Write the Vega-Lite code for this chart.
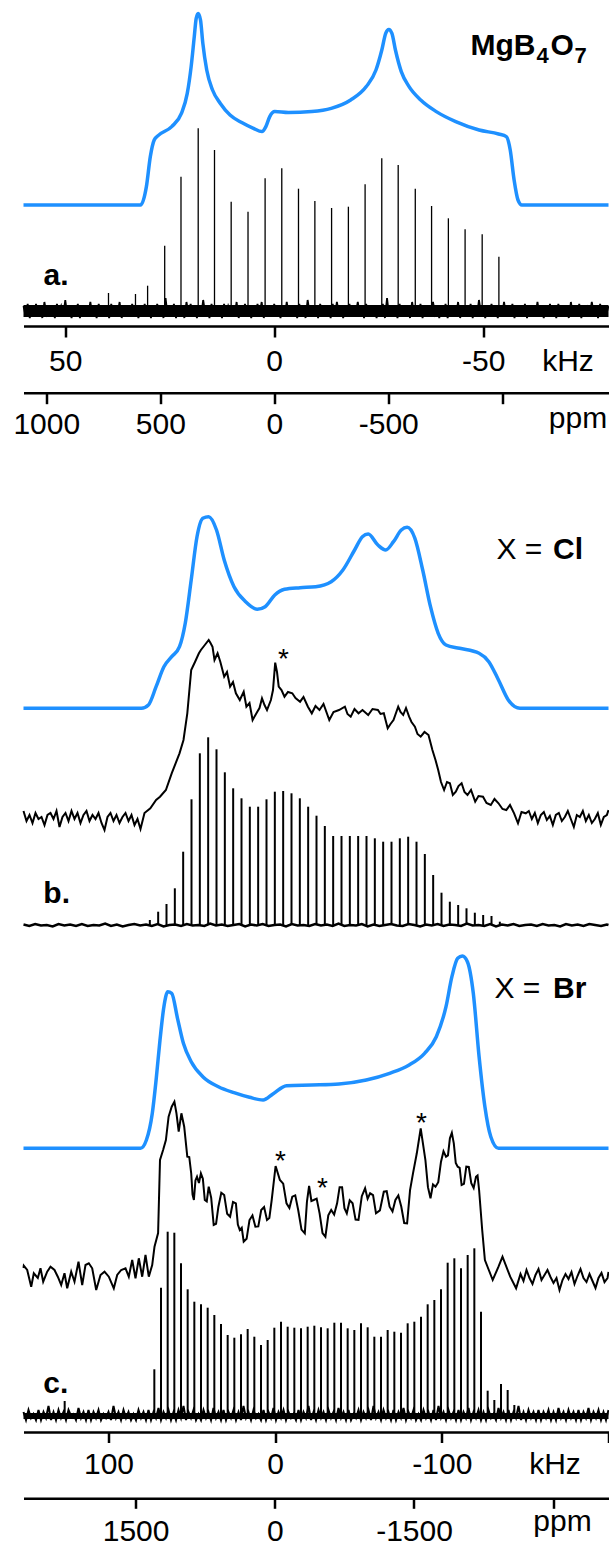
{
"$schema":"https://vega.github.io/schema/vega-lite/v6.json",
"background":"white",
"padding":{"left":12.5,"top":0,"right":0,"bottom":0},
"config":{"view":{"stroke":null},"axis":{"grid":false,"domainColor":"#000","tickColor":"#000","labelColor":"#000","titleColor":"#000","labelFont":"Liberation Sans","titleFont":"Liberation Sans","labelFontSize":30,"titleFontSize":30,"titleFontWeight":"normal","domainWidth":2.5,"tickWidth":2.5,"labelFlush":false,"labelOverlap":false,"titleAlign":"center","titleBaseline":"alphabetic"},"text":{"font":"Liberation Sans","color":"#000"}},
"datasets":{
"aBlue":[{"k":60,"v":0},{"k":31.98,"v":0},{"k":30.59,"v":9.2},{"k":29.65,"v":24.2},{"k":28.72,"v":32.5},{"k":27.79,"v":34.7},{"k":24.53,"v":39.2},{"k":22.21,"v":45.8},{"k":20.81,"v":55.8},{"k":19.88,"v":69.2},{"k":19.13,"v":84.2},{"k":18.67,"v":93.3},{"k":18.2,"v":95.8},{"k":17.64,"v":92.5},{"k":17.08,"v":80.8},{"k":16.15,"v":67.5},{"k":14.76,"v":57.5},{"k":12.89,"v":50.8},{"k":10.57,"v":45},{"k":7.77,"v":41.2},{"k":4.98,"v":38.3},{"k":2.93,"v":36.7},{"k":2,"v":39.2},{"k":1.07,"v":44.2},{"k":-0.14,"v":46.7},{"k":-3.4,"v":46.2},{"k":-8.99,"v":46.7},{"k":-13.65,"v":48.3},{"k":-18.3,"v":52.5},{"k":-22.03,"v":59.2},{"k":-24.35,"v":67.5},{"k":-25.75,"v":77.5},{"k":-26.68,"v":85.8},{"k":-27.43,"v":87.8},{"k":-28.17,"v":85.8},{"k":-29.01,"v":77.5},{"k":-30.41,"v":66.7},{"k":-32.27,"v":59.2},{"k":-35.06,"v":52.5},{"k":-38.79,"v":46.7},{"k":-43.44,"v":41.7},{"k":-49.03,"v":37.5},{"k":-53.69,"v":35.5},{"k":-55.55,"v":34.2},{"k":-56.48,"v":27.5},{"k":-57.41,"v":12.5},{"k":-58.34,"v":2.5},{"k":-59.27,"v":0},{"k":-80,"v":0}],
"aSpk":[{"k":39.66,"v":8.5},{"k":33.2,"v":8},{"k":30.3,"v":12.15},{"k":26.21,"v":32.15},{"k":22.31,"v":66.65},{"k":18.19,"v":90.85},{"k":14.29,"v":80},{"k":10.3,"v":54.15},{"k":6.27,"v":49.15},{"k":2.18,"v":65.85},{"k":-1.81,"v":70.85},{"k":-5.81,"v":60.65},{"k":-9.73,"v":54.5},{"k":-13.73,"v":51},{"k":-17.75,"v":51.65},{"k":-21.75,"v":62.85},{"k":-25.74,"v":75.85},{"k":-29.67,"v":72.5},{"k":-33.76,"v":60.65},{"k":-37.66,"v":52},{"k":-41.68,"v":45.85},{"k":-45.68,"v":40.35},{"k":-49.77,"v":37.85},{"k":-53.77,"v":26.65}],
"aCore":[{"k":60,"lo":-3.5,"hi":2.5},{"k":-80,"lo":-3.5,"hi":2.5}],
"aNoise":[{"k":60,"v":2},{"k":59.5,"v":-3},{"k":59,"v":3},{"k":58.5,"v":-4},{"k":58,"v":1},{"k":57.5,"v":-2},{"k":57,"v":3},{"k":56.5,"v":-3},{"k":56,"v":2},{"k":55.5,"v":-4},{"k":55,"v":4},{"k":54.5,"v":-2},{"k":54,"v":1},{"k":53.5,"v":-3},{"k":53,"v":2},{"k":52.5,"v":-4},{"k":52,"v":3},{"k":51.5,"v":-1},{"k":51,"v":2},{"k":50.5,"v":-3},
{"k":50,"v":5},{"k":49.5,"v":-3},{"k":49,"v":1},{"k":48.5,"v":-4},{"k":48,"v":2},{"k":47.5,"v":-2},{"k":47,"v":3},{"k":46.5,"v":-4},{"k":46,"v":1},{"k":45.5,"v":-3},{"k":45,"v":2},{"k":44.5,"v":-2},{"k":44,"v":4},{"k":43.5,"v":-3},{"k":43,"v":1},{"k":42.5,"v":-4},{"k":42,"v":3},{"k":41.5,"v":-2},{"k":41,"v":2},{"k":40.5,"v":-3},
{"k":40,"v":1},{"k":39.5,"v":-4},{"k":39,"v":3},{"k":38.5,"v":-3},{"k":38,"v":2},{"k":37.5,"v":-2},{"k":37,"v":4},{"k":36.5,"v":-4},{"k":36,"v":1},{"k":35.5,"v":-3},{"k":35,"v":2},{"k":34.5,"v":-3},{"k":34,"v":3},{"k":33.5,"v":-2},{"k":33,"v":1},{"k":32.5,"v":-4},{"k":32,"v":2},{"k":31.5,"v":-3},{"k":31,"v":3},{"k":30.5,"v":-2},
{"k":30,"v":2},{"k":29.5,"v":-4},{"k":29,"v":1},{"k":28.5,"v":-3},{"k":28,"v":3},{"k":27.5,"v":-2},{"k":27,"v":2},{"k":26.5,"v":-4},{"k":26,"v":6},{"k":25.5,"v":-3},{"k":25,"v":1},{"k":24.5,"v":-2},{"k":24,"v":3},{"k":23.5,"v":-4},{"k":23,"v":2},{"k":22.5,"v":-3},{"k":22,"v":1},{"k":21.5,"v":-4},{"k":21,"v":4},{"k":20.5,"v":-2},
{"k":20,"v":3},{"k":19.5,"v":-3},{"k":19,"v":2},{"k":18.5,"v":-4},{"k":18,"v":1},{"k":17.5,"v":-3},{"k":17,"v":5},{"k":16.5,"v":-2},{"k":16,"v":2},{"k":15.5,"v":-4},{"k":15,"v":3},{"k":14.5,"v":-3},{"k":14,"v":1},{"k":13.5,"v":-2},{"k":13,"v":2},{"k":12.5,"v":-4},{"k":12,"v":3},{"k":11.5,"v":-3},{"k":11,"v":2},{"k":10.5,"v":-1},
{"k":10,"v":1},{"k":9.5,"v":-3},{"k":9,"v":4},{"k":8.5,"v":-4},{"k":8,"v":2},{"k":7.5,"v":-2},{"k":7,"v":3},{"k":6.5,"v":-3},{"k":6,"v":1},{"k":5.5,"v":-4},{"k":5,"v":2},{"k":4.5,"v":-3},{"k":4,"v":3},{"k":3.5,"v":-2},{"k":3,"v":4},{"k":2.5,"v":-4},{"k":2,"v":1},{"k":1.5,"v":-3},{"k":1,"v":2},{"k":0.5,"v":-3},
{"k":0,"v":3},{"k":-0.5,"v":-2},{"k":-1,"v":1},{"k":-1.5,"v":-4},{"k":-2,"v":2},{"k":-2.5,"v":-3},{"k":-3,"v":4},{"k":-3.5,"v":-3},{"k":-4,"v":2},{"k":-4.5,"v":-2},{"k":-5,"v":1},{"k":-5.5,"v":-4},{"k":-6,"v":3},{"k":-6.5,"v":-3},{"k":-7,"v":2},{"k":-7.5,"v":-4},{"k":-8,"v":5},{"k":-8.5,"v":-2},{"k":-9,"v":1},{"k":-9.5,"v":-3},
{"k":-10,"v":2},{"k":-10.5,"v":-4},{"k":-11,"v":3},{"k":-11.5,"v":-2},{"k":-12,"v":1},{"k":-12.5,"v":-3},{"k":-13,"v":2},{"k":-13.5,"v":-4},{"k":-14,"v":3},{"k":-14.5,"v":-3},{"k":-15,"v":4},{"k":-15.5,"v":-2},{"k":-16,"v":2},{"k":-16.5,"v":-4},{"k":-17,"v":1},{"k":-17.5,"v":-3},{"k":-18,"v":3},{"k":-18.5,"v":-3},{"k":-19,"v":2},{"k":-19.5,"v":-2},
{"k":-20,"v":4},{"k":-20.5,"v":-3},{"k":-21,"v":1},{"k":-21.5,"v":-4},{"k":-22,"v":3},{"k":-22.5,"v":-2},{"k":-23,"v":2},{"k":-23.5,"v":-3},{"k":-24,"v":1},{"k":-24.5,"v":-4},{"k":-25,"v":2},{"k":-25.5,"v":-2},{"k":-26,"v":3},{"k":-26.5,"v":-4},{"k":-27,"v":6},{"k":-27.5,"v":-3},{"k":-28,"v":2},{"k":-28.5,"v":-3},{"k":-29,"v":1},{"k":-29.5,"v":-4},
{"k":-30,"v":3},{"k":-30.5,"v":-2},{"k":-31,"v":2},{"k":-31.5,"v":-3},{"k":-32,"v":1},{"k":-32.5,"v":-4},{"k":-33,"v":4},{"k":-33.5,"v":-3},{"k":-34,"v":2},{"k":-34.5,"v":-2},{"k":-35,"v":3},{"k":-35.5,"v":-4},{"k":-36,"v":1},{"k":-36.5,"v":-3},{"k":-37,"v":2},{"k":-37.5,"v":-3},{"k":-38,"v":4},{"k":-38.5,"v":-2},{"k":-39,"v":1},{"k":-39.5,"v":-4},
{"k":-40,"v":2},{"k":-40.5,"v":-3},{"k":-41,"v":3},{"k":-41.5,"v":-4},{"k":-42,"v":1},{"k":-42.5,"v":-2},{"k":-43,"v":2},{"k":-43.5,"v":-3},{"k":-44,"v":4},{"k":-44.5,"v":-4},{"k":-45,"v":2},{"k":-45.5,"v":-3},{"k":-46,"v":1},{"k":-46.5,"v":-2},{"k":-47,"v":3},{"k":-47.5,"v":-4},{"k":-48,"v":2},{"k":-48.5,"v":-3},{"k":-49,"v":5},{"k":-49.5,"v":-2},
{"k":-50,"v":1},{"k":-50.5,"v":-4},{"k":-51,"v":2},{"k":-51.5,"v":-3},{"k":-52,"v":3},{"k":-52.5,"v":-2},{"k":-53,"v":1},{"k":-53.5,"v":-4},{"k":-54,"v":2},{"k":-54.5,"v":-3},{"k":-55,"v":4},{"k":-55.5,"v":-3},{"k":-56,"v":2},{"k":-56.5,"v":-2},{"k":-57,"v":3},{"k":-57.5,"v":-4},{"k":-58,"v":1},{"k":-58.5,"v":-3},{"k":-59,"v":2},{"k":-59.5,"v":-3},
{"k":-60,"v":3},{"k":-60.5,"v":-4},{"k":-61,"v":2},{"k":-61.5,"v":-2},{"k":-62,"v":1},{"k":-62.5,"v":-3},{"k":-63,"v":4},{"k":-63.5,"v":-3},{"k":-64,"v":2},{"k":-64.5,"v":-4},{"k":-65,"v":1},{"k":-65.5,"v":-2},{"k":-66,"v":3},{"k":-66.5,"v":-3},{"k":-67,"v":2},{"k":-67.5,"v":-4},{"k":-68,"v":3},{"k":-68.5,"v":-2},{"k":-69,"v":1},{"k":-69.5,"v":-3},
{"k":-70,"v":2},{"k":-70.5,"v":-4},{"k":-71,"v":4},{"k":-71.5,"v":-3},{"k":-72,"v":1},{"k":-72.5,"v":-2},{"k":-73,"v":3},{"k":-73.5,"v":-4},{"k":-74,"v":2},{"k":-74.5,"v":-3},{"k":-75,"v":1},{"k":-75.5,"v":-3},{"k":-76,"v":4},{"k":-76.5,"v":-2},{"k":-77,"v":2},{"k":-77.5,"v":-4},{"k":-78,"v":3},{"k":-78.5,"v":-3},{"k":-79,"v":1},{"k":-79.5,"v":-2},{"k":-80,"v":2}],
"bBlue":[{"k":151,"v":0},{"k":80.2,"v":0},{"k":76.06,"v":1.65},{"k":71.44,"v":10.8},{"k":66.76,"v":20.8},{"k":62.08,"v":25.8},{"k":57.4,"v":30.8},{"k":53.92,"v":42.65},{"k":50.38,"v":64.15},{"k":46.9,"v":85.8},{"k":43.42,"v":95},{"k":39.88,"v":95.8},{"k":35.2,"v":89.15},{"k":30.58,"v":74.15},{"k":24.7,"v":60.8},{"k":17.74,"v":53.3},{"k":10.72,"v":49.5},{"k":6.04,"v":50.8},{"k":0.22,"v":56.65},{"k":-5.6,"v":59.5},{"k":-14.96,"v":60.3},{"k":-24.32,"v":60.8},{"k":-33.62,"v":63.3},{"k":-40.64,"v":69.15},{"k":-47.66,"v":79.15},{"k":-52.34,"v":85.8},{"k":-55.82,"v":87.15},{"k":-61.64,"v":81.65},{"k":-66.32,"v":79.15},{"k":-71,"v":83.3},{"k":-75.68,"v":89.15},{"k":-79.16,"v":90.5},{"k":-83.84,"v":85},{"k":-88.52,"v":69.15},{"k":-93.2,"v":50.8},{"k":-97.82,"v":37.5},{"k":-102.5,"v":31.65},{"k":-110.66,"v":30},{"k":-122.36,"v":27.5},{"k":-128.18,"v":23.3},{"k":-134,"v":14.15},{"k":-139.88,"v":4.15},{"k":-146.9,"v":0},{"k":-200,"v":0}],
"bExp":[{"k":151,"v":3},{"k":149.2,"v":-2},{"k":147.4,"v":1},{"k":145.6,"v":-3},{"k":143.8,"v":2},{"k":142,"v":-1},{"k":140.2,"v":0},{"k":138.4,"v":-4},{"k":136.6,"v":1},{"k":134.8,"v":2},{"k":133,"v":-1},{"k":131.2,"v":3},{"k":129.4,"v":-5},{"k":127.6,"v":0},{"k":125.8,"v":2},{"k":124,"v":-2},{"k":122.2,"v":3},{"k":120.4,"v":-1},{"k":118.6,"v":2},{"k":116.8,"v":-3},{"k":115,"v":1},{"k":113.2,"v":3},{"k":111.4,"v":-2},{"k":109.6,"v":1},{"k":107.8,"v":-1},{"k":106,"v":2},{"k":104.2,"v":-3},{"k":102.4,"v":-6.5},{"k":100.6,"v":0},{"k":98.8,"v":2},{"k":97,"v":-2},{"k":95.2,"v":1},{"k":93.4,"v":-3},{"k":91.6,"v":0},{"k":89.8,"v":2},{"k":88,"v":-2},{"k":86.2,"v":1},{"k":84.4,"v":-4},{"k":82.6,"v":-1},{"k":80.8,"v":-6},
{"k":78.4,"v":2},{"k":74.9,"v":4.35},{"k":71.44,"v":8.5},{"k":69.1,"v":10.15},{"k":65.56,"v":13.5},{"k":62.08,"v":21.85},{"k":59.74,"v":26.85},{"k":57.4,"v":31.85},{"k":55,"v":38.5},{"k":52.72,"v":51.85},{"k":50.38,"v":73.5},{"k":48.04,"v":77.65},{"k":45.76,"v":81.85},{"k":44.56,"v":83.5},{"k":42.22,"v":86},{"k":39.88,"v":88.5},{"k":38.8,"v":87},{"k":37.6,"v":85.15},{"k":36.4,"v":78.5},{"k":34.54,"v":81.85},{"k":32.92,"v":77.65},{"k":30.58,"v":70.15},{"k":28.9,"v":72.5},{"k":27.04,"v":65.15},{"k":25.3,"v":67.5},{"k":23.56,"v":61.85},{"k":21.22,"v":58.5},{"k":18.88,"v":62.65},{"k":17.26,"v":55.15},{"k":15.4,"v":57},{"k":13.54,"v":48.5},{"k":10.72,"v":52.65},{"k":9.4,"v":54.5},{"k":7.9,"v":59.35},{"k":6.4,"v":56},{"k":4.9,"v":53.5},{"k":2.56,"v":58.5},{"k":1.3,"v":63.5},{"k":-0.02,"v":77.15},{"k":-1.1,"v":72.5},{"k":-2.12,"v":65.15},{"k":-3.8,"v":63.5},{"k":-5.6,"v":60.15},{"k":-7.7,"v":62.5},{"k":-10.28,"v":61.85},{"k":-12.2,"v":59.5},{"k":-14.96,"v":57.65},{"k":-17,"v":60},{"k":-19.64,"v":55.15},{"k":-21.98,"v":51.85},{"k":-24.2,"v":55.5},{"k":-26.6,"v":53.5},{"k":-29,"v":56.5},{"k":-32.48,"v":48.5},{"k":-35,"v":52.5},{"k":-38.3,"v":53.5},{"k":-41.84,"v":55.15},{"k":-43.4,"v":51.5},{"k":-45.32,"v":50.15},{"k":-47.6,"v":54},{"k":-50,"v":51.85},{"k":-52.4,"v":53.5},{"k":-55.82,"v":51},{"k":-58.4,"v":54},{"k":-61.64,"v":53.5},{"k":-63.2,"v":51.5},{"k":-65.18,"v":51.85},{"k":-67.52,"v":44.35},{"k":-69.2,"v":46.5},{"k":-71,"v":48.5},{"k":-73.82,"v":55.15},{"k":-75.2,"v":52.5},{"k":-76.82,"v":51},{"k":-78.5,"v":54.5},{"k":-80.36,"v":50.15},{"k":-81.8,"v":47.5},{"k":-83.84,"v":45.15},{"k":-85.4,"v":41.5},{"k":-87.32,"v":40.15},{"k":-89.6,"v":42.5},{"k":-92,"v":41},{"k":-94.34,"v":33.5},{"k":-96.2,"v":28.5},{"k":-97.82,"v":23.5},{"k":-99.5,"v":17.5},{"k":-101.36,"v":13.5},{"k":-103.1,"v":17.5},{"k":-104.84,"v":16.85},{"k":-106.6,"v":11},{"k":-108.38,"v":12.65},{"k":-110,"v":15.5},{"k":-111.86,"v":16.85},{"k":-113.6,"v":12.5},{"k":-115.4,"v":11},{"k":-117.5,"v":13.5},{"k":-120.02,"v":7.65},{"k":-122,"v":10.5},{"k":-124.7,"v":10.15},{"k":-126.8,"v":7},{"k":-129.38,"v":6},{"k":-131.6,"v":9},{"k":-134,"v":6.85},{"k":-136.4,"v":4},{"k":-138.68,"v":3.5},{"k":-140.9,"v":6},{"k":-143.36,"v":1.85},{"k":-145.7,"v":-3.15},{"k":-147.8,"v":2.5},{"k":-150.38,"v":1.85},
{"k":-152.2,"v":3},{"k":-154,"v":-1},{"k":-155.8,"v":2},{"k":-157.6,"v":-3},{"k":-159.4,"v":1},{"k":-161.2,"v":2.5},{"k":-163,"v":-1.5},{"k":-164.8,"v":0.5},{"k":-166.6,"v":-4},{"k":-168.4,"v":1},{"k":-170.2,"v":2},{"k":-172,"v":-2},{"k":-173.8,"v":0},{"k":-175.6,"v":3},{"k":-177.4,"v":-1},{"k":-179.2,"v":-5},{"k":-181,"v":1},{"k":-182.8,"v":0},{"k":-184.6,"v":3},{"k":-186.4,"v":-2},{"k":-188.2,"v":1},{"k":-190,"v":-3},{"k":-191.8,"v":-1},{"k":-193.6,"v":2},{"k":-195.4,"v":-4},{"k":-197.2,"v":0},{"k":-199,"v":1},{"k":-200,"v":3.5}],
"bBase":[{"k":151,"v":0.25},{"k":147.5,"v":-0.5},{"k":144,"v":0.5},{"k":140.5,"v":-0.25},{"k":137,"v":0},{"k":133.5,"v":-0.75},{"k":130,"v":0.5},{"k":126.5,"v":-0.25},{"k":123,"v":0.25},{"k":119.5,"v":-0.5},
{"k":116,"v":0.5},{"k":112.5,"v":-0.5},{"k":109,"v":0},{"k":105.5,"v":-0.25},{"k":102,"v":0.75},{"k":98.5,"v":-0.5},{"k":95,"v":0.25},{"k":91.5,"v":-0.75},{"k":88,"v":0},{"k":84.5,"v":0.5},
{"k":81,"v":-0.25},{"k":77.5,"v":0.25},{"k":74,"v":-0.5},{"k":70.5,"v":0.5},{"k":67,"v":-0.75},{"k":63.5,"v":0},{"k":60,"v":0.25},{"k":56.5,"v":-0.5},{"k":53,"v":0.5},{"k":49.5,"v":-0.25},
{"k":46,"v":0},{"k":42.5,"v":-0.5},{"k":39,"v":0.75},{"k":35.5,"v":-0.25},{"k":32,"v":0.25},{"k":28.5,"v":-0.5},{"k":25,"v":0},{"k":21.5,"v":0.5},{"k":18,"v":-0.75},{"k":14.5,"v":0.25},
{"k":11,"v":-0.25},{"k":7.5,"v":0.5},{"k":4,"v":-0.5},{"k":0.5,"v":0},{"k":-3,"v":0.25},{"k":-6.5,"v":-0.75},{"k":-10,"v":0.5},{"k":-13.5,"v":-0.25},{"k":-17,"v":0},{"k":-20.5,"v":-0.5},
{"k":-24,"v":0.5},{"k":-27.5,"v":-0.25},{"k":-31,"v":0.25},{"k":-34.5,"v":-0.5},{"k":-38,"v":0.75},{"k":-41.5,"v":-0.5},{"k":-45,"v":0},{"k":-48.5,"v":-0.25},{"k":-52,"v":0.5},{"k":-55.5,"v":-0.75},
{"k":-59,"v":0.25},{"k":-62.5,"v":-0.5},{"k":-66,"v":0},{"k":-69.5,"v":0.5},{"k":-73,"v":-0.25},{"k":-76.5,"v":-0.5},{"k":-80,"v":0.5},{"k":-83.5,"v":0},{"k":-87,"v":-0.75},{"k":-90.5,"v":0.25},
{"k":-94,"v":-0.25},{"k":-97.5,"v":0.5},{"k":-101,"v":-0.5},{"k":-104.5,"v":0.25},{"k":-108,"v":0},{"k":-111.5,"v":-0.5},{"k":-115,"v":0.75},{"k":-118.5,"v":-0.25},{"k":-122,"v":0},{"k":-125.5,"v":-0.5},
{"k":-129,"v":0.5},{"k":-132.5,"v":-0.75},{"k":-136,"v":0.25},{"k":-139.5,"v":-0.25},{"k":-143,"v":0.5},{"k":-146.5,"v":-0.5},{"k":-150,"v":0},{"k":-153.5,"v":0.25},{"k":-157,"v":-0.5},{"k":-160.5,"v":0.5},
{"k":-164,"v":-0.25},{"k":-167.5,"v":0},{"k":-171,"v":-0.75},{"k":-174.5,"v":0.5},{"k":-178,"v":-0.25},{"k":-181.5,"v":0.25},{"k":-185,"v":-0.5},{"k":-188.5,"v":0.5},{"k":-192,"v":0},{"k":-195.5,"v":-0.5},{"k":-199,"v":0.25},{"k":-200,"v":0}],
"bSpk":[{"k":75.2,"v":2.5},{"k":70.2,"v":6.65},{"k":65.2,"v":10.5},{"k":60.2,"v":18.35},{"k":55.2,"v":36.65},{"k":50.2,"v":62.85},{"k":45.2,"v":85.85},{"k":40.2,"v":93.85},{"k":35.2,"v":87.85},{"k":30.2,"v":76.35},{"k":25.2,"v":68.35},{"k":20.2,"v":63.35},{"k":15.2,"v":59.15},{"k":10.2,"v":59.15},{"k":5.2,"v":62.85},{"k":0.2,"v":66.65},{"k":-4.8,"v":67},{"k":-9.8,"v":65.85},{"k":-14.8,"v":63.35},{"k":-19.8,"v":59.15},{"k":-24.8,"v":54.65},{"k":-29.8,"v":49.5},{"k":-34.8,"v":44.5},{"k":-39.8,"v":44.5},{"k":-44.8,"v":44.5},{"k":-49.8,"v":44.5},{"k":-54.8,"v":44.5},{"k":-59.8,"v":43.35},{"k":-64.8,"v":41.65},{"k":-69.8,"v":41.65},{"k":-74.8,"v":43.35},{"k":-79.8,"v":44.15},{"k":-84.8,"v":41.65},{"k":-89.8,"v":35.5},{"k":-94.8,"v":25},{"k":-99.8,"v":16.15},{"k":-104.8,"v":11.65},{"k":-109.8,"v":10},{"k":-114.8,"v":8.35},{"k":-119.8,"v":6.15},{"k":-124.8,"v":5},{"k":-129.8,"v":4.5},{"k":-134.8,"v":1.65}],
"cBlue":[{"k":151,"v":0},{"k":80.8,"v":0},{"k":77.26,"v":4.15},{"k":73.72,"v":17.5},{"k":71.44,"v":34.15},{"k":69.1,"v":54.15},{"k":66.76,"v":70.8},{"k":64.42,"v":78.3},{"k":62.08,"v":77.5},{"k":58.6,"v":65},{"k":55.06,"v":52.5},{"k":50.38,"v":43.3},{"k":43.42,"v":35.8},{"k":34.06,"v":30.8},{"k":24.7,"v":27.8},{"k":15.4,"v":25.5},{"k":7.24,"v":24.15},{"k":1.36,"v":27.15},{"k":-6.8,"v":31.3},{"k":-21.98,"v":31.65},{"k":-38.3,"v":32.15},{"k":-54.68,"v":34.15},{"k":-68.66,"v":37.5},{"k":-80.36,"v":41.65},{"k":-89.66,"v":47.5},{"k":-96.68,"v":55.8},{"k":-102.5,"v":70.8},{"k":-106.04,"v":85.8},{"k":-109.52,"v":95},{"k":-112.34,"v":96.15},{"k":-115.34,"v":93.3},{"k":-118.88,"v":77.5},{"k":-122.36,"v":45.8},{"k":-125.84,"v":20.8},{"k":-129.38,"v":5.8},{"k":-134,"v":0},{"k":-200,"v":0}],
"cExp":[{"k":151,"v":4},{"k":150.82,"v":5.15},{"k":148.78,"v":3},{"k":146.38,"v":-5.35},{"k":144.82,"v":1.35},{"k":142.42,"v":-1},{"k":140.8,"v":3.85},{"k":139.18,"v":-2.85},{"k":136.78,"v":2.15},{"k":134.8,"v":4.65},{"k":132.4,"v":3},{"k":130.42,"v":-0.35},{"k":128.38,"v":-4.5},{"k":126.4,"v":1.35},{"k":124.78,"v":-6.15},{"k":122.38,"v":2.15},{"k":120.4,"v":-2.85},{"k":118,"v":7.15},{"k":115.78,"v":-4.5},{"k":113.8,"v":5.5},{"k":111.82,"v":6.35},{"k":109.78,"v":3.85},{"k":107.38,"v":-7},{"k":104.8,"v":0.5},{"k":102.4,"v":2.15},{"k":99.82,"v":-0.35},{"k":96.82,"v":-6.15},{"k":94.78,"v":0.5},{"k":92.38,"v":3},{"k":89.8,"v":3.85},{"k":87.82,"v":-0.35},{"k":85.78,"v":8},{"k":83.8,"v":-1.15},{"k":81.82,"v":8.85},{"k":79.78,"v":-0.35},{"k":77.8,"v":10.5},{"k":75.82,"v":-0.35},{"k":73.78,"v":5.5},{"k":72.4,"v":14.65},{"k":70.24,"v":21.5},{"k":69.1,"v":58},{"k":67.24,"v":63},{"k":65.56,"v":68},{"k":63.94,"v":79.65},{"k":62.08,"v":84.65},{"k":60.46,"v":87.15},{"k":59.26,"v":81.5},{"k":57.88,"v":72.15},{"k":56.26,"v":81.35},{"k":54.58,"v":74.65},{"k":52.72,"v":59.65},{"k":51.55,"v":59.5},{"k":50.38,"v":51.35},{"k":49.57,"v":40.7},{"k":48.76,"v":38},{"k":47.83,"v":47.8},{"k":46.9,"v":49.65},{"k":45.73,"v":46.5},{"k":44.56,"v":51.35},{"k":43.39,"v":48.7},{"k":42.22,"v":38},{"k":41.05,"v":37.3},{"k":39.88,"v":44.65},{"k":38.38,"v":39.1},{"k":36.88,"v":25.5},{"k":35.47,"v":26.1},{"k":34.06,"v":34.65},{"k":32.32,"v":41.6},{"k":30.58,"v":40.5},{"k":28.81,"v":31.1},{"k":27.04,"v":29.65},{"k":25.3,"v":37},{"k":23.56,"v":36.35},{"k":22.39,"v":25.7},{"k":21.22,"v":23},{"k":20.05,"v":24.1},{"k":18.88,"v":17.15},{"k":17.14,"v":18.6},{"k":15.4,"v":28},{"k":13.63,"v":30.3},{"k":11.86,"v":24.65},{"k":10.12,"v":24.8},{"k":8.38,"v":33},{"k":6.64,"v":34.5},{"k":4.9,"v":28},{"k":3.49,"v":29},{"k":2.08,"v":38},{"k":-0.26,"v":55},{"k":-2.84,"v":48},{"k":-4.82,"v":46.2},{"k":-6.8,"v":36.35},{"k":-8.54,"v":34},{"k":-10.28,"v":39.65},{"k":-12.05,"v":40.3},{"k":-13.82,"v":33},{"k":-15.8,"v":23.2},{"k":-17.78,"v":21.35},{"k":-19.07,"v":37.2},{"k":-20.36,"v":45},{"k":-21.74,"v":37.5},{"k":-23.12,"v":38},{"k":-24.89,"v":38.7},{"k":-26.66,"v":31.35},{"k":-28.4,"v":21.5},{"k":-30.14,"v":19.65},{"k":-31.88,"v":30.3},{"k":-33.62,"v":33},{"k":-35.39,"v":30.7},{"k":-37.16,"v":36.35},{"k":-38.66,"v":44.4},{"k":-40.16,"v":44.35},{"k":-41.57,"v":33.9},{"k":-42.98,"v":31.35},{"k":-44.72,"v":37.9},{"k":-46.46,"v":36.35},{"k":-48.23,"v":28.2},{"k":-50,"v":28},{"k":-51.98,"v":39.9},{"k":-53.96,"v":43.85},{"k":-55.46,"v":38.6},{"k":-56.96,"v":41.35},{"k":-58.73,"v":40.4},{"k":-60.5,"v":31.35},{"k":-62.84,"v":32.8},{"k":-65.18,"v":42.15},{"k":-66.92,"v":42.4},{"k":-68.66,"v":34.65},{"k":-70.4,"v":32.3},{"k":-72.14,"v":38},{"k":-73.91,"v":40.3},{"k":-75.68,"v":34.65},{"k":-77.42,"v":26.5},{"k":-79.16,"v":26.35},{"k":-80.93,"v":42.9},{"k":-82.7,"v":51.35},{"k":-84.98,"v":61.35},{"k":-87.32,"v":73.85},{"k":-90.14,"v":58},{"k":-91.67,"v":44.4},{"k":-93.2,"v":38.85},{"k":-94.7,"v":45.8},{"k":-96.2,"v":44.65},{"k":-97.85,"v":46.9},{"k":-99.5,"v":57.15},{"k":-101,"v":62.4},{"k":-102.5,"v":59.65},{"k":-103.67,"v":60.3},{"k":-104.84,"v":68.85},{"k":-106.01,"v":71.6},{"k":-107.18,"v":66.35},{"k":-108.35,"v":56.5},{"k":-109.52,"v":54.65},{"k":-110.69,"v":54.1},{"k":-111.86,"v":45.5},{"k":-113.27,"v":46.1},{"k":-114.68,"v":54.65},{"k":-116.18,"v":54.5},{"k":-117.68,"v":46.35},{"k":-119.09,"v":44},{"k":-120.5,"v":49.65},{"k":-121.43,"v":50.3},{"k":-122.36,"v":43},{"k":-124.22,"v":23},{"k":-125.84,"v":8},{"k":-128.18,"v":3},{"k":-130.52,"v":-2},{"k":-134,"v":4.65},{"k":-136.4,"v":9.65},{"k":-141.02,"v":-0.35},{"k":-144.56,"v":-6.15},{"k":-147.2,"v":1},{"k":-149,"v":-2.5},{"k":-150.8,"v":3},{"k":-152.6,"v":-1},{"k":-154.4,"v":-4},{"k":-156.2,"v":0.5},{"k":-158,"v":3.5},{"k":-159.8,"v":-2},{"k":-161.6,"v":0.5},{"k":-163.4,"v":3},{"k":-165.2,"v":-0.5},{"k":-167,"v":-3.5},{"k":-168.8,"v":-1},{"k":-170.6,"v":-7},{"k":-172.4,"v":-2},{"k":-174.2,"v":1},{"k":-176,"v":-1.5},{"k":-177.8,"v":2},{"k":-179.6,"v":-4},{"k":-181.4,"v":0},{"k":-183.2,"v":3.5},{"k":-185,"v":-1},{"k":-186.8,"v":-3},{"k":-188.6,"v":1},{"k":-190.4,"v":-2.5},{"k":-192.2,"v":-6},{"k":-194,"v":-1},{"k":-195.8,"v":1.5},{"k":-197.6,"v":-3},{"k":-199.4,"v":-1},{"k":-200,"v":2}],
"cCore":[{"k":151,"lo":-2.5,"hi":0.5},{"k":-200,"lo":-2.5,"hi":0.5}],
"cNoise":[{"k":151,"v":1},{"k":149.5,"v":-3},{"k":148,"v":2},{"k":146.5,"v":-2},{"k":145,"v":0},{"k":143.5,"v":-3},{"k":142,"v":2},{"k":140.5,"v":-3},{"k":139,"v":1},{"k":137.5,"v":-2},{"k":136,"v":4},{"k":134.5,"v":-3},{"k":133,"v":1},{"k":131.5,"v":-3},{"k":130,"v":2},{"k":128.5,"v":-2},{"k":127,"v":1},{"k":125.5,"v":-3},{"k":124,"v":2},{"k":122.5,"v":-1},
{"k":121,"v":0},{"k":119.5,"v":-3},{"k":118,"v":3},{"k":116.5,"v":-2},{"k":115,"v":1},{"k":113.5,"v":-3},{"k":112,"v":2},{"k":110.5,"v":-3},{"k":109,"v":1},{"k":107.5,"v":-2},{"k":106,"v":2},{"k":104.5,"v":-3},{"k":103,"v":0},{"k":101.5,"v":-2},{"k":100,"v":1},{"k":98.5,"v":-3},{"k":97,"v":4},{"k":95.5,"v":-2},{"k":94,"v":1},{"k":92.5,"v":-3},
{"k":91,"v":2},{"k":89.5,"v":-2},{"k":88,"v":1},{"k":86.5,"v":-3},{"k":85,"v":0},{"k":83.5,"v":-3},{"k":82,"v":2},{"k":80.5,"v":-2},{"k":79,"v":1},{"k":77.5,"v":-3},{"k":76,"v":2},{"k":74.5,"v":-3},{"k":73,"v":1},{"k":71.5,"v":-2},{"k":70,"v":3},{"k":68.5,"v":-3},{"k":67,"v":1},{"k":65.5,"v":-2},{"k":64,"v":2},{"k":62.5,"v":-3},
{"k":61,"v":1},{"k":59.5,"v":-3},{"k":58,"v":2},{"k":56.5,"v":-2},{"k":55,"v":4},{"k":53.5,"v":-3},{"k":52,"v":1},{"k":50.5,"v":-2},{"k":49,"v":2},{"k":47.5,"v":-3},{"k":46,"v":0},{"k":44.5,"v":-3},{"k":43,"v":2},{"k":41.5,"v":-2},{"k":40,"v":1},{"k":38.5,"v":-3},{"k":37,"v":3},{"k":35.5,"v":-2},{"k":34,"v":1},{"k":32.5,"v":-3},
{"k":31,"v":2},{"k":29.5,"v":-3},{"k":28,"v":1},{"k":26.5,"v":-2},{"k":25,"v":2},{"k":23.5,"v":-3},{"k":22,"v":1},{"k":20.5,"v":-3},{"k":19,"v":4},{"k":17.5,"v":-2},{"k":16,"v":1},{"k":14.5,"v":-3},{"k":13,"v":2},{"k":11.5,"v":-2},{"k":10,"v":0},{"k":8.5,"v":-3},{"k":7,"v":2},{"k":5.5,"v":-3},{"k":4,"v":1},{"k":2.5,"v":-2},
{"k":1,"v":3},{"k":-0.5,"v":-3},{"k":-2,"v":1},{"k":-3.5,"v":-2},{"k":-5,"v":2},{"k":-6.5,"v":-3},{"k":-8,"v":1},{"k":-9.5,"v":-2},{"k":-11,"v":0},{"k":-12.5,"v":-3},{"k":-14,"v":2},{"k":-15.5,"v":-3},{"k":-17,"v":1},{"k":-18.5,"v":-2},{"k":-20,"v":4},{"k":-21.5,"v":-3},{"k":-23,"v":1},{"k":-24.5,"v":-3},{"k":-26,"v":2},{"k":-27.5,"v":-2},
{"k":-29,"v":1},{"k":-30.5,"v":-3},{"k":-32,"v":2},{"k":-33.5,"v":-2},{"k":-35,"v":1},{"k":-36.5,"v":-3},{"k":-38,"v":3},{"k":-39.5,"v":-2},{"k":-41,"v":1},{"k":-42.5,"v":-3},{"k":-44,"v":2},{"k":-45.5,"v":-3},{"k":-47,"v":0},{"k":-48.5,"v":-2},{"k":-50,"v":2},{"k":-51.5,"v":-3},{"k":-53,"v":1},{"k":-54.5,"v":-2},{"k":-56,"v":2},{"k":-57.5,"v":-3},
{"k":-59,"v":4},{"k":-60.5,"v":-2},{"k":-62,"v":1},{"k":-63.5,"v":-3},{"k":-65,"v":2},{"k":-66.5,"v":-2},{"k":-68,"v":1},{"k":-69.5,"v":-3},{"k":-71,"v":2},{"k":-72.5,"v":-3},{"k":-74,"v":1},{"k":-75.5,"v":-2},{"k":-77,"v":3},{"k":-78.5,"v":-3},{"k":-80,"v":1},{"k":-81.5,"v":-2},{"k":-83,"v":2},{"k":-84.5,"v":-3},{"k":-86,"v":0},{"k":-87.5,"v":-3},
{"k":-89,"v":2},{"k":-90.5,"v":-2},{"k":-92,"v":1},{"k":-93.5,"v":-3},{"k":-95,"v":2},{"k":-96.5,"v":-3},{"k":-98,"v":4},{"k":-99.5,"v":-2},{"k":-101,"v":1},{"k":-102.5,"v":-3},{"k":-104,"v":2},{"k":-105.5,"v":-2},{"k":-107,"v":1},{"k":-108.5,"v":-3},{"k":-110,"v":2},{"k":-111.5,"v":-3},{"k":-113,"v":1},{"k":-114.5,"v":-2},{"k":-116,"v":3},{"k":-117.5,"v":-3},
{"k":-119,"v":1},{"k":-120.5,"v":-2},{"k":-122,"v":2},{"k":-123.5,"v":-3},{"k":-125,"v":1},{"k":-126.5,"v":-3},{"k":-128,"v":2},{"k":-129.5,"v":-2},{"k":-131,"v":0},{"k":-132.5,"v":-3},{"k":-134,"v":3},{"k":-135.5,"v":-2},{"k":-137,"v":1},{"k":-138.5,"v":-3},{"k":-140,"v":2},{"k":-141.5,"v":-3},{"k":-143,"v":1},{"k":-144.5,"v":-2},{"k":-146,"v":4},{"k":-147.5,"v":-3},
{"k":-149,"v":1},{"k":-150.5,"v":-3},{"k":-152,"v":2},{"k":-153.5,"v":-2},{"k":-155,"v":1},{"k":-156.5,"v":-3},{"k":-158,"v":2},{"k":-159.5,"v":-3},{"k":-161,"v":1},{"k":-162.5,"v":-2},{"k":-164,"v":2},{"k":-165.5,"v":-3},{"k":-167,"v":1},{"k":-168.5,"v":-3},{"k":-170,"v":3},{"k":-171.5,"v":-2},{"k":-173,"v":1},{"k":-174.5,"v":-3},{"k":-176,"v":2},{"k":-177.5,"v":-2},
{"k":-179,"v":1},{"k":-180.5,"v":-3},{"k":-182,"v":2},{"k":-183.5,"v":-3},{"k":-185,"v":1},{"k":-186.5,"v":-2},{"k":-188,"v":3},{"k":-189.5,"v":-3},{"k":-191,"v":1},{"k":-192.5,"v":-2},{"k":-194,"v":2},{"k":-195.5,"v":-3},{"k":-197,"v":1},{"k":-198.5,"v":-3},{"k":-200,"v":2}],
"cSpk":[{"k":126.3,"v":6.5},{"k":72.5,"v":22.35},{"k":68.5,"v":63.15},{"k":64.5,"v":91.15},{"k":60.5,"v":90.65},{"k":56.5,"v":75.35},{"k":52.5,"v":62.35},{"k":48.5,"v":56.15},{"k":44.5,"v":54.85},{"k":40.5,"v":53.15},{"k":36.5,"v":49.5},{"k":32.5,"v":45},{"k":28.5,"v":39.5},{"k":24.5,"v":38.15},{"k":20.5,"v":39.85},{"k":16.5,"v":42.5},{"k":12.5,"v":38.65},{"k":8.5,"v":34.5},{"k":4.5,"v":37},{"k":0.5,"v":43.15},{"k":-3.5,"v":46.15},{"k":-7.5,"v":43.65},{"k":-11.5,"v":43.15},{"k":-15.5,"v":42.85},{"k":-19.5,"v":43.65},{"k":-23.5,"v":44.15},{"k":-27.5,"v":43.35},{"k":-31.5,"v":42.85},{"k":-35.5,"v":45.65},{"k":-39.5,"v":45.65},{"k":-43.5,"v":42.85},{"k":-47.5,"v":42},{"k":-51.5,"v":45.35},{"k":-55.5,"v":43.35},{"k":-59.5,"v":38.65},{"k":-63.5,"v":38.65},{"k":-67.5,"v":42},{"k":-71.5,"v":41.15},{"k":-75.5,"v":40.65},{"k":-79.5,"v":45.35},{"k":-83.5,"v":46.15},{"k":-87.5,"v":48.65},{"k":-91.5,"v":54.85},{"k":-95.5,"v":57},{"k":-99.5,"v":62.35},{"k":-103.5,"v":75.65},{"k":-107.5,"v":77.85},{"k":-111.5,"v":72.85},{"k":-115.5,"v":79.5},{"k":-119.5,"v":82.85},{"k":-123.5,"v":51.15},{"k":-127.5,"v":11.65},{"k":-131.5,"v":7},{"k":-135.5,"v":15},{"k":-139.5,"v":12},{"k":-143.5,"v":4.5}]
},
"spacing":174,
"bounds":"flush",
"vconcat":[
{"width":585,"height":326,
"resolve":{"scale":{"x":"independent","y":"independent"},"axis":{"x":"independent","y":"independent"}},
"layer":[
{"data":{"name":"aBlue"},"mark":{"type":"line","color":"#1e90ff","strokeWidth":3.5,"interpolate":"monotone"},
"encoding":{"x":{"field":"k","type":"quantitative","scale":{"domain":[60,-80],"nice":false,"zero":false},"axis":{"orient":"bottom","values":[50,0,-50],"tickSize":11,"labelPadding":9,"labelExpr":"toString(datum.value)","title":"kHz","titleX":544,"titleY":44}},
"y":{"field":"v","type":"quantitative","scale":{"domain":[-60.5,102.5],"nice":false,"zero":false},"axis":null},
"order":{"field":"k","type":"quantitative","sort":"descending"}}},
{"data":{"name":"aCore"},"mark":{"type":"area","color":"#000"},
"encoding":{"x":{"field":"k","type":"quantitative","scale":{"domain":[60,-80],"nice":false,"zero":false},"axis":null},
"y":{"field":"lo","type":"quantitative","scale":{"domain":[-8,155],"nice":false,"zero":false},"axis":null},"y2":{"field":"hi"}}},
{"data":{"name":"aNoise"},"mark":{"type":"line","color":"#000","strokeWidth":1.8},
"encoding":{"x":{"field":"k","type":"quantitative","scale":{"domain":[60,-80],"nice":false,"zero":false},"axis":null},
"y":{"field":"v","type":"quantitative","scale":{"domain":[-8,155],"nice":false,"zero":false},"axis":null}}},
{"data":{"name":"aSpk"},"mark":{"type":"rule","color":"#000","strokeWidth":1.3},
"encoding":{"x":{"field":"k","type":"quantitative","scale":{"domain":[60,-80],"nice":false,"zero":false},"axis":null},
"y":{"field":"v","type":"quantitative","scale":{"domain":[-8,155],"nice":false,"zero":false},"axis":null},"y2":{"datum":0}}},
{"data":{"values":[{"k":-46.97,"v":75,"t":"MgB"},{"k":-66.12,"v":75,"t":"O"},{"k":55.21,"v":-40,"t":"a."}]},"mark":{"type":"text","fontSize":30,"fontWeight":"bold","align":"left","baseline":"alphabetic"},
"encoding":{"x":{"field":"k","type":"quantitative","scale":{"domain":[60,-80],"nice":false,"zero":false},"axis":null},
"y":{"field":"v","type":"quantitative","scale":{"domain":[-60.5,102.5],"nice":false,"zero":false},"axis":null},"text":{"field":"t"}}},
{"data":{"values":[{"k":-62.77,"v":71,"t":"4"},{"k":-71.86,"v":71,"t":"7"}]},"mark":{"type":"text","fontSize":22,"fontWeight":"bold","align":"left","baseline":"alphabetic"},
"encoding":{"x":{"field":"k","type":"quantitative","scale":{"domain":[60,-80],"nice":false,"zero":false},"axis":null},
"y":{"field":"v","type":"quantitative","scale":{"domain":[-60.5,102.5],"nice":false,"zero":false},"axis":null},"text":{"field":"t"}}},
{"data":{"values":[{"p":0}]},"mark":{"type":"point","opacity":0},
"encoding":{"x":{"field":"p","type":"quantitative","scale":{"domain":[1100,-1466],"nice":false,"zero":false},"axis":{"orient":"bottom","offset":66.7,"values":[1000,500,0,-500,-1000],"tickSize":11,"labelPadding":6,"labelExpr":"datum.value == -1000 ? '' : toString(datum.value)","title":"ppm","titleX":554,"titleY":35}}}}
]},
{"width":585,"height":932,
"resolve":{"scale":{"x":"independent","y":"independent"},"axis":{"x":"independent","y":"independent"}},
"layer":[
{"data":{"name":"bBlue"},"mark":{"type":"line","color":"#1e90ff","strokeWidth":3.5,"interpolate":"monotone"},
"encoding":{"x":{"field":"k","type":"quantitative","scale":{"domain":[151,-200],"nice":false,"zero":false},"axis":{"orient":"bottom","values":[100,0,-100,-200],"tickSize":10.5,"labelPadding":7,"labelExpr":"datum.value == -200 ? '' : toString(datum.value)","title":"kHz","titleX":531,"titleY":41}},
"y":{"field":"v","type":"quantitative","scale":{"domain":[-361.85,104.15],"nice":false,"zero":false},"axis":null},
"order":{"field":"k","type":"quantitative","sort":"descending"}}},
{"data":{"name":"bExp"},"mark":{"type":"line","color":"#000","strokeWidth":2},
"encoding":{"x":{"field":"k","type":"quantitative","scale":{"domain":[151,-200],"nice":false,"zero":false},"axis":null},
"y":{"field":"v","type":"quantitative","scale":{"domain":[-307.5,158.5],"nice":false,"zero":false},"axis":null}}},
{"data":{"name":"bBase"},"mark":{"type":"line","color":"#000","strokeWidth":2.5},
"encoding":{"x":{"field":"k","type":"quantitative","scale":{"domain":[151,-200],"nice":false,"zero":false},"axis":null},
"y":{"field":"v","type":"quantitative","scale":{"domain":[-253.5,212.5],"nice":false,"zero":false},"axis":null}}},
{"data":{"name":"bSpk"},"mark":{"type":"rule","color":"#000","strokeWidth":2},
"encoding":{"x":{"field":"k","type":"quantitative","scale":{"domain":[151,-200],"nice":false,"zero":false},"axis":null},
"y":{"field":"v","type":"quantitative","scale":{"domain":[-253.5,212.5],"nice":false,"zero":false},"axis":null},"y2":{"datum":0}}},
{"data":{"name":"cBlue"},"mark":{"type":"line","color":"#1e90ff","strokeWidth":3.5,"interpolate":"monotone"},
"encoding":{"x":{"field":"k","type":"quantitative","scale":{"domain":[151,-200],"nice":false,"zero":false},"axis":null},
"y":{"field":"v","type":"quantitative","scale":{"domain":[-141.85,324.15],"nice":false,"zero":false},"axis":null},
"order":{"field":"k","type":"quantitative","sort":"descending"}}},
{"data":{"name":"cExp"},"mark":{"type":"line","color":"#000","strokeWidth":2},
"encoding":{"x":{"field":"k","type":"quantitative","scale":{"domain":[151,-200],"nice":false,"zero":false},"axis":null},
"y":{"field":"v","type":"quantitative","scale":{"domain":[-78,388],"nice":false,"zero":false},"axis":null}}},
{"data":{"name":"cCore"},"mark":{"type":"area","color":"#000"},
"encoding":{"x":{"field":"k","type":"quantitative","scale":{"domain":[151,-200],"nice":false,"zero":false},"axis":null},
"y":{"field":"lo","type":"quantitative","scale":{"domain":[-9,457],"nice":false,"zero":false},"axis":null},"y2":{"field":"hi"}}},
{"data":{"name":"cNoise"},"mark":{"type":"line","color":"#000","strokeWidth":2},
"encoding":{"x":{"field":"k","type":"quantitative","scale":{"domain":[151,-200],"nice":false,"zero":false},"axis":null},
"y":{"field":"v","type":"quantitative","scale":{"domain":[-9,457],"nice":false,"zero":false},"axis":null}}},
{"data":{"name":"cSpk"},"mark":{"type":"rule","color":"#000","strokeWidth":2},
"encoding":{"x":{"field":"k","type":"quantitative","scale":{"domain":[151,-200],"nice":false,"zero":false},"axis":null},
"y":{"field":"v","type":"quantitative","scale":{"domain":[-9,457],"nice":false,"zero":false},"axis":null},"y2":{"datum":0}}},
{"data":{"values":[{"k":-132.8,"v":74.5,"t":"X ="}]},"mark":{"type":"text","fontSize":30,"align":"left","baseline":"alphabetic"},
"encoding":{"x":{"field":"k","type":"quantitative","scale":{"domain":[151,-200],"nice":false,"zero":false},"axis":null},
"y":{"field":"v","type":"quantitative","scale":{"domain":[-361.85,104.15],"nice":false,"zero":false},"axis":null},"text":{"field":"t"}}},
{"data":{"values":[{"k":-166.7,"v":74.5,"t":"Cl"}]},"mark":{"type":"text","fontSize":30,"fontWeight":"bold","align":"left","baseline":"alphabetic"},
"encoding":{"x":{"field":"k","type":"quantitative","scale":{"domain":[151,-200],"nice":false,"zero":false},"axis":null},
"y":{"field":"v","type":"quantitative","scale":{"domain":[-361.85,104.15],"nice":false,"zero":false},"axis":null},"text":{"field":"t"}}},
{"data":{"values":[{"k":139.1,"v":11.15,"t":"b."}]},"mark":{"type":"text","fontSize":30,"fontWeight":"bold","align":"left","baseline":"alphabetic"},
"encoding":{"x":{"field":"k","type":"quantitative","scale":{"domain":[151,-200],"nice":false,"zero":false},"axis":null},
"y":{"field":"v","type":"quantitative","scale":{"domain":[-253.5,212.5],"nice":false,"zero":false},"axis":null},"text":{"field":"t"}}},
{"data":{"values":[{"k":-4.94,"v":74.75,"t":"*"}]},"mark":{"type":"text","fontSize":28,"align":"center","baseline":"alphabetic"},
"encoding":{"x":{"field":"k","type":"quantitative","scale":{"domain":[151,-200],"nice":false,"zero":false},"axis":null},
"y":{"field":"v","type":"quantitative","scale":{"domain":[-307.5,158.5],"nice":false,"zero":false},"axis":null},"text":{"field":"t"}}},
{"data":{"values":[{"k":-131.6,"v":75,"t":"X ="}]},"mark":{"type":"text","fontSize":30,"align":"left","baseline":"alphabetic"},
"encoding":{"x":{"field":"k","type":"quantitative","scale":{"domain":[151,-200],"nice":false,"zero":false},"axis":null},
"y":{"field":"v","type":"quantitative","scale":{"domain":[-141.85,324.15],"nice":false,"zero":false},"axis":null},"text":{"field":"t"}}},
{"data":{"values":[{"k":-166.7,"v":75,"t":"Br"}]},"mark":{"type":"text","fontSize":30,"fontWeight":"bold","align":"left","baseline":"alphabetic"},
"encoding":{"x":{"field":"k","type":"quantitative","scale":{"domain":[151,-200],"nice":false,"zero":false},"axis":null},
"y":{"field":"v","type":"quantitative","scale":{"domain":[-141.85,324.15],"nice":false,"zero":false},"axis":null},"text":{"field":"t"}}},
{"data":{"values":[{"k":139.1,"v":10.65,"t":"c."}]},"mark":{"type":"text","fontSize":30,"fontWeight":"bold","align":"left","baseline":"alphabetic"},
"encoding":{"x":{"field":"k","type":"quantitative","scale":{"domain":[151,-200],"nice":false,"zero":false},"axis":null},
"y":{"field":"v","type":"quantitative","scale":{"domain":[-9,457],"nice":false,"zero":false},"axis":null},"text":{"field":"t"}}},
{"data":{"values":[{"k":-3.2,"v":53.25,"t":"*"},{"k":-28.4,"v":39.75,"t":"*"},{"k":-87.8,"v":72.25,"t":"*"}]},"mark":{"type":"text","fontSize":28,"align":"center","baseline":"alphabetic"},
"encoding":{"x":{"field":"k","type":"quantitative","scale":{"domain":[151,-200],"nice":false,"zero":false},"axis":null},
"y":{"field":"v","type":"quantitative","scale":{"domain":[-78,388],"nice":false,"zero":false},"axis":null},"text":{"field":"t"}}},
{"data":{"values":[{"p":0}]},"mark":{"type":"point","opacity":0},
"encoding":{"x":{"field":"p","type":"quantitative","scale":{"domain":[2708,-3596],"nice":false,"zero":false},"axis":{"orient":"bottom","offset":66.3,"values":[1500,0,-1500,-3000],"tickSize":10,"labelPadding":8,"labelExpr":"datum.value == -3000 ? '' : toString(datum.value)","title":"ppm","titleX":538.5,"titleY":32}}}}
]}
]
}
